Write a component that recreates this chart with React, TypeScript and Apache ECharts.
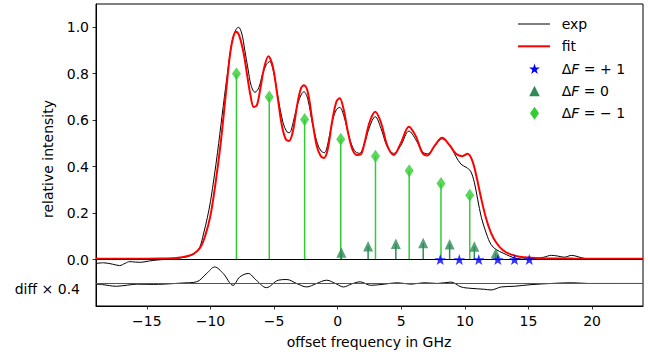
import React, { useEffect, useRef } from "react";
import * as echarts from "echarts";

// ---- data ----
const expCurve: [number, number][] = [
  [-19, -0.017], [-18.4, -0.014], [-17.7, -0.02], [-17.15, -0.026], [-16.7, -0.016], [-16.35, -0.009],
  [-15.9, -0.011], [-15.5, -0.012], [-14.8, -0.006], [-14.2, -0.002], [-13.7, 0.0], [-12.8, 0.004],
  [-12.0, 0.01], [-11.5, 0.018], [-11.2, 0.027], [-10.85, 0.052], [-10.55, 0.11], [-10.25, 0.18],
  [-10.0, 0.25], [-9.7, 0.36], [-9.45, 0.46], [-9.1, 0.615], [-8.7, 0.787], [-8.3, 0.94], [-8.0, 0.99],
  [-7.8, 1.0], [-7.55, 0.975], [-7.3, 0.9], [-7.05, 0.82], [-6.8, 0.748], [-6.5, 0.72], [-6.2, 0.74],
  [-5.9, 0.8], [-5.6, 0.84], [-5.35, 0.852], [-5.05, 0.81], [-4.7, 0.7], [-4.3, 0.59], [-4.0, 0.55],
  [-3.8, 0.546], [-3.5, 0.59], [-3.15, 0.67], [-2.85, 0.712], [-2.65, 0.722], [-2.35, 0.69], [-2.0, 0.59],
  [-1.6, 0.5], [-1.3, 0.467], [-1.05, 0.46], [-0.75, 0.505], [-0.4, 0.6], [-0.1, 0.645], [0.15, 0.655],
  [0.5, 0.615], [0.9, 0.528], [1.3, 0.47], [1.7, 0.457], [2.05, 0.49], [2.5, 0.57], [2.95, 0.615],
  [3.4, 0.565], [3.9, 0.485], [4.4, 0.457], [4.95, 0.49], [5.6, 0.553], [6.15, 0.515], [6.65, 0.465],
  [7.05, 0.455], [7.6, 0.486], [8.2, 0.52], [8.8, 0.492], [9.3, 0.443], [9.7, 0.41], [10.1, 0.397],
  [10.45, 0.38], [10.75, 0.33], [11.0, 0.26], [11.3, 0.18], [11.7, 0.11], [12.05, 0.065], [12.45, 0.043],
  [13.0, 0.028], [13.5, 0.015], [14.1, 0.004], [14.8, 0.002], [15.6, 0.004], [16.2, 0.01], [16.8, 0.018],
  [17.3, 0.015], [17.8, 0.01], [18.4, 0.018], [18.9, 0.012], [19.5, 0.004], [20.5, 0.003], [22, 0.004],
  [24, 0.003],
];

const fitCurve: [number, number][] = [
  [-19, 0.003], [-16, 0.003], [-14, 0.004], [-13, 0.006], [-12.4, 0.009], [-11.8, 0.015], [-11.3, 0.026],
  [-10.8, 0.052], [-10.4, 0.105], [-10.0, 0.19], [-9.6, 0.33], [-9.2, 0.5], [-8.8, 0.71], [-8.45, 0.89],
  [-8.2, 0.96], [-8.0, 0.981], [-7.75, 0.965], [-7.4, 0.89], [-7.1, 0.787], [-6.85, 0.705], [-6.6, 0.657],
  [-6.35, 0.665], [-6.1, 0.73], [-5.8, 0.82], [-5.45, 0.875], [-5.1, 0.83], [-4.75, 0.71], [-4.4, 0.58],
  [-4.1, 0.52], [-3.85, 0.51], [-3.55, 0.545], [-3.2, 0.66], [-2.9, 0.735], [-2.65, 0.75], [-2.35, 0.72],
  [-2.0, 0.6], [-1.65, 0.49], [-1.35, 0.447], [-1.1, 0.437], [-0.8, 0.47], [-0.45, 0.59], [-0.1, 0.68],
  [0.15, 0.694], [0.45, 0.65], [0.8, 0.55], [1.15, 0.475], [1.5, 0.45], [1.8, 0.452], [2.1, 0.5],
  [2.5, 0.59], [2.95, 0.636], [3.4, 0.59], [3.9, 0.49], [4.4, 0.45], [4.95, 0.5], [5.6, 0.572],
  [6.15, 0.53], [6.65, 0.46], [7.05, 0.448], [7.6, 0.488], [8.2, 0.524], [8.8, 0.492], [9.3, 0.455],
  [9.8, 0.445], [10.2, 0.455], [10.55, 0.43], [10.9, 0.36], [11.25, 0.27], [11.65, 0.18], [12.05, 0.115],
  [12.5, 0.07], [13.0, 0.04], [13.6, 0.022], [14.3, 0.012], [15.2, 0.008], [16.5, 0.005], [18.5, 0.004],
  [24, 0.003],
];

// residual, already scaled x0.4 and drawn around the offset line
const diffOffset = -0.1;
const diffCurve: [number, number][] = [
  [-19, -0.107], [-18.5, -0.108], [-17.4, -0.115], [-16.5, -0.11], [-15.8, -0.106], [-14.5, -0.107],
  [-13.7, -0.106], [-12.2, -0.101], [-11.1, -0.096], [-10.3, -0.06], [-9.67, -0.032], [-9.0, -0.06],
  [-8.22, -0.111], [-7.7, -0.075], [-7.04, -0.06], [-6.4, -0.089], [-5.6, -0.121], [-4.67, -0.089],
  [-4.0, -0.086], [-3.23, -0.103], [-2.44, -0.118], [-1.66, -0.103], [-0.87, -0.089], [-0.08, -0.106],
  [0.45, -0.118], [1.1, -0.105], [1.76, -0.096], [2.6, -0.111], [3.65, -0.106], [4.7, -0.1],
  [5.75, -0.106], [6.8, -0.1], [7.86, -0.103], [8.9, -0.097], [9.7, -0.118], [10.48, -0.124],
  [11.53, -0.128], [12.06, -0.131], [12.85, -0.118], [13.9, -0.115], [15.2, -0.108], [16.8, -0.103],
  [18.4, -0.1], [19.7, -0.103], [21, -0.103], [24, -0.103],
];

const dFminus1X = [-7.96, -5.38, -2.6, 0.24, 2.97, 5.62, 8.12, 10.38];
const dFminus1Y = [0.8, 0.7, 0.603, 0.518, 0.445, 0.382, 0.327, 0.277];
const dF0X = [0.29, 2.39, 4.57, 6.72, 8.8, 10.74, 12.42];
const dF0Y = [0.03, 0.057, 0.068, 0.071, 0.066, 0.056, 0.027];
const dFplus1X = [8.06, 9.56, 11.09, 12.59, 13.9, 15.06];
const dFplus1Y = [0, 0, 0, 0, 0, 0];

const xTicks = [-15, -10, -5, 0, 5, 10, 15, 20];
const yTicks = [0, 0.2, 0.4, 0.6, 0.8, 1.0];

const legendLabels = ["exp", "fit", "Δ{i|F} = + 1", "Δ{i|F} = 0", "Δ{i|F} = − 1"];

const FONT = "DejaVu Sans";
const STAR =
  "path://M50,0 L61.2,34.5 L97.6,34.5 L68.2,55.9 L79.4,90.5 L50,69.1 L20.6,90.5 L31.8,55.9 L2.4,34.5 L38.8,34.5 Z";

const zip = (xs: number[], ys: number[]) => xs.map((x, i) => [x, ys[i]]);

const stemSeries = (data: number[][], color: string) => ({
  type: "custom",
  data,
  z: 3,
  silent: true,
  renderItem: (_p: any, api: any) => {
    const x = api.value(0);
    const y = api.value(1);
    const a = api.coord([x, 0]);
    const b = api.coord([x, y]);
    return {
      type: "line",
      shape: { x1: a[0], y1: a[1], x2: b[0], y2: b[1] },
      style: { stroke: color, lineWidth: 1.5 },
    };
  },
});

function starPoints(cx: number, cy: number, R: number) {
  const pts: number[][] = [];
  for (let k = 0; k < 10; k++) {
    const r = k % 2 === 0 ? R : R * 0.382;
    const ang = (-90 + k * 36) * (Math.PI / 180);
    pts.push([cx + r * Math.cos(ang), cy + r * Math.sin(ang)]);
  }
  return pts;
}

export default function App() {
  const ref = useRef<HTMLDivElement>(null);

  useEffect(() => {
    document.body.style.margin = "0";
    if (!ref.current) return;
    const chart = echarts.init(ref.current, null, { renderer: "svg" });

    const rowY = [24, 46.3, 68.8, 91, 113.3];
    const hx = 534.5;
    const textX = 561.7;

    const legendGraphics: any[] = [
      { type: "line", shape: { x1: 518, y1: rowY[0], x2: 550, y2: rowY[0] }, style: { stroke: "#000", lineWidth: 1 } },
      { type: "line", shape: { x1: 518, y1: rowY[1], x2: 550, y2: rowY[1] }, style: { stroke: "#ff0000", lineWidth: 2 } },
      { type: "polygon", shape: { points: starPoints(hx, rowY[2] + 0.5, 5.7) }, style: { fill: "#0000ff" } },
      {
        type: "polygon",
        shape: { points: [[hx, rowY[3] - 5.3], [hx + 5.3, rowY[3] + 5.3], [hx - 5.3, rowY[3] + 5.3]] },
        style: { fill: "#2e8b57" },
      },
      {
        type: "polygon",
        shape: { points: [[hx, rowY[4] - 6.5], [hx + 4.5, rowY[4]], [hx, rowY[4] + 6.5], [hx - 4.5, rowY[4]]] },
        style: { fill: "#32cd32" },
      },
      ...legendLabels.map((t, i) => ({
        type: "text",
        x: textX,
        y: rowY[i],
        style: {
          text: t,
          fontFamily: FONT,
          fontSize: 14,
          fill: "#000",
          verticalAlign: "middle",
          align: "left",
          rich: { i: { fontStyle: "italic", fontFamily: FONT, fontSize: 14, fill: "#000" } },
        },
      })),
    ];

    chart.setOption({
      animation: false,
      grid: { left: 96, right: 5, top: 4, bottom: 50, show: true, borderColor: "#000", borderWidth: 1, containLabel: false },
      xAxis: {
        type: "value",
        min: -19,
        max: 24,
        splitLine: { show: false },
        axisLine: { show: true, onZero: false, lineStyle: { color: "#000", width: 1 } },
        axisTick: { show: true, length: 3.5, customValues: xTicks, lineStyle: { color: "#000", width: 0.8 } },
        axisLabel: {
          customValues: xTicks,
          margin: 8,
          fontFamily: FONT,
          fontSize: 14,
          color: "#000",
          formatter: (v: number) => (v < 0 ? "\u2212" + Math.abs(v) : String(v)),
        },
      },
      yAxis: {
        type: "value",
        min: -0.2,
        max: 1.1,
        splitLine: { show: false },
        axisLine: { show: true, onZero: false, lineStyle: { color: "#000", width: 1 } },
        axisTick: { show: true, length: 3.5, customValues: yTicks, lineStyle: { color: "#000", width: 0.8 } },
        axisLabel: {
          customValues: yTicks,
          margin: 7,
          fontFamily: FONT,
          fontSize: 14,
          color: "#000",
          formatter: (v: number) => v.toFixed(1),
        },
      },
      graphic: [
        {
          type: "text",
          x: 369,
          y: 342,
          style: { text: "offset frequency in GHz", fontFamily: FONT, fontSize: 14, fill: "#000", align: "center", verticalAlign: "middle" },
        },
        {
          type: "text",
          x: 48,
          y: 159,
          rotation: Math.PI / 2,
          style: { text: "relative intensity", fontFamily: FONT, fontSize: 14, fill: "#000", align: "center", verticalAlign: "middle" },
        },
        {
          type: "text",
          x: 80,
          y: 288.5,
          style: { text: "diff × 0.4", fontFamily: FONT, fontSize: 14, fill: "#000", align: "right", verticalAlign: "middle" },
        },
        ...legendGraphics,
      ],
      series: [
        {
          name: "exp",
          type: "line",
          data: expCurve,
          showSymbol: false,
          symbol: "none",
          smooth: 0.35,
          lineStyle: { color: "#000", width: 1 },
          z: 2,
        },
        {
          name: "fit",
          type: "line",
          data: fitCurve,
          showSymbol: false,
          symbol: "none",
          smooth: 0.35,
          lineStyle: { color: "#ff0000", width: 2 },
          z: 2,
        },
        {
          name: "diff",
          type: "line",
          data: diffCurve,
          showSymbol: false,
          symbol: "none",
          smooth: 0.35,
          lineStyle: { color: "#000", width: 1 },
          z: 2,
          markLine: {
            silent: true,
            symbol: "none",
            label: { show: false },
            data: [
              { yAxis: diffOffset, lineStyle: { color: "#555", width: 1, type: "solid" } },
              { yAxis: 0, lineStyle: { color: "#000", width: 1, type: "solid" } },
            ],
          },
        },
        stemSeries(zip(dFminus1X, dFminus1Y), "#32cd32"),
        stemSeries(zip(dF0X, dF0Y), "#2e8b57"),
        {
          name: "ΔF = −1",
          type: "scatter",
          data: zip(dFminus1X, dFminus1Y),
          symbol: "diamond",
          symbolSize: [9, 13],
          itemStyle: { color: "#32cd32" },
          z: 4,
        },
        {
          name: "ΔF = 0",
          type: "scatter",
          data: zip(dF0X, dF0Y),
          symbol: "triangle",
          symbolSize: [10, 10.5],
          itemStyle: { color: "#2e8b57" },
          z: 4,
        },
        {
          name: "ΔF = +1",
          type: "scatter",
          data: zip(dFplus1X, dFplus1Y),
          symbol: STAR,
          symbolSize: [11.5, 11],
          itemStyle: { color: "#0000ff" },
          z: 5,
        },
      ],
    });

    return () => chart.dispose();
  }, []);

  return <div ref={ref} style={{ width: 648, height: 356 }} />;
}
